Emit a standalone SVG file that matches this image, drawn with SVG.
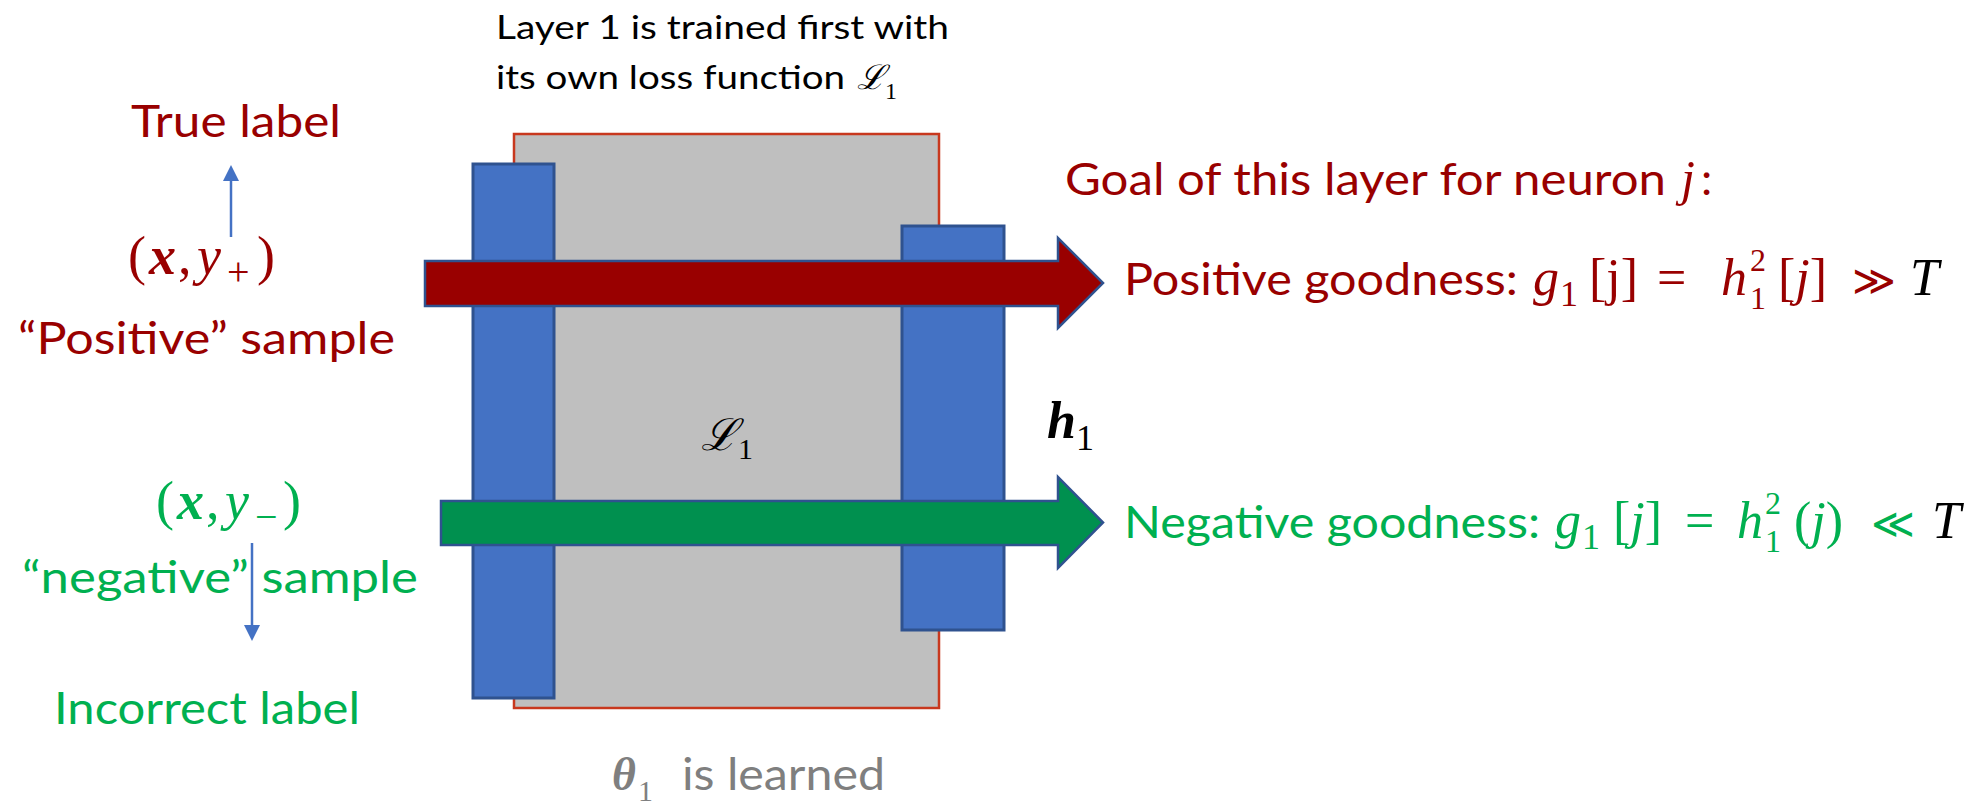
<svg xmlns="http://www.w3.org/2000/svg" width="1973" height="804" viewBox="0 0 1973 804">
<style>
.t{font-family:Lato,"Liberation Sans",sans-serif}
.m{font-family:"Liberation Serif","DejaVu Serif",serif;font-style:italic}
.u{font-style:normal}
.b{font-weight:bold}
.red{fill:#990000}
.grn{fill:#00B050}
.blk{fill:#000000}
.gry{fill:#7F7F7F}
.bar{fill:#4472C4;stroke:#2F528F;stroke-width:3}
.thin{stroke:#4472C4;stroke-width:2.5;fill:none}
.head{fill:#4472C4}
</style>
<rect width="1973" height="804" fill="#ffffff"/>

<g id="layer1">
  <rect x="514" y="134" width="425" height="574" fill="#BFBFBF" stroke="#C8381E" stroke-width="2.5"/>
</g>
<g id="input-bar">
  <rect class="bar" x="473" y="164" width="81" height="534"/>
</g>
<g id="output-bar">
  <rect class="bar" x="902" y="226" width="102" height="404"/>
</g>

<g id="connectors">
  <polygon points="425,261 1058,261 1058,238 1103,283 1058,328 1058,306 425,306" fill="#990000" stroke="#2F528F" stroke-width="2.5" stroke-linejoin="miter"/>
  <polygon points="441,501 1058,501 1058,477 1103,522.5 1058,568 1058,545 441,545" fill="#00904F" stroke="#2F528F" stroke-width="2.5" stroke-linejoin="miter"/>
  <line class="thin" x1="231" y1="237" x2="231" y2="178"/>
  <polygon class="head" points="223,181 239,181 231,165"/>
  <line class="thin" x1="252" y1="543" x2="252" y2="628"/>
  <polygon class="head" points="244,625 260,625 252,641"/>
</g>

<g id="title">
  <text class="t blk" x="496" y="39" font-size="33" textLength="453" lengthAdjust="spacingAndGlyphs">Layer 1 is trained first with</text>
  <text class="t blk" x="496" y="89" font-size="33" textLength="349" lengthAdjust="spacingAndGlyphs">its own loss function</text>
  <text class="m blk" x="857" y="89" font-size="34">ℒ<tspan class="u" dy="10" font-size="24">1</tspan></text>
</g>

<g id="true-label">
  <text class="t red" x="131" y="137" font-size="45" textLength="210" lengthAdjust="spacingAndGlyphs">True label</text>
</g>

<g id="positive-sample">
  <text class="m red" y="274" font-size="54"><tspan class="u" x="128">(</tspan><tspan class="b" x="149">x</tspan><tspan class="u" x="178">,</tspan><tspan x="197">y</tspan><tspan class="u" x="227" y="285" font-size="40">+</tspan><tspan class="u" x="257" y="274">)</tspan></text>
  <text class="t red" x="18" y="354" font-size="45" textLength="377" lengthAdjust="spacingAndGlyphs">“Positive” sample</text>
</g>

<g id="negative-sample">
  <text class="m grn" y="519" font-size="54"><tspan class="u" x="156">(</tspan><tspan class="b" x="177">x</tspan><tspan class="u" x="206">,</tspan><tspan x="225">y</tspan><tspan class="u" x="255" y="530" font-size="40">−</tspan><tspan class="u" x="283" y="519">)</tspan></text>
  <text class="t grn" x="22" y="593" font-size="45" textLength="396" lengthAdjust="spacingAndGlyphs">“negative” sample</text>
</g>

<g id="incorrect-label">
  <text class="t grn" x="54" y="724" font-size="45" textLength="306" lengthAdjust="spacingAndGlyphs">Incorrect label</text>
</g>

<g id="loss-label">
  <text class="m blk" x="701" y="450" font-size="44">ℒ<tspan class="u" dy="9" font-size="30">1</tspan></text>
</g>

<g id="theta-label">
  <text class="m gry" x="612" y="790" font-size="46"><tspan class="b">θ</tspan><tspan class="u" dx="2" dy="11" font-size="30">1</tspan></text>
  <text class="t gry" x="682" y="790" font-size="45" textLength="203" lengthAdjust="spacingAndGlyphs">is learned</text>
</g>

<g id="h1-label">
  <text class="m blk" x="1047" y="438" font-size="52"><tspan class="b">h</tspan><tspan class="u" dy="12" font-size="36">1</tspan></text>
</g>

<g id="goal">
  <text class="t red" x="1065" y="195" font-size="45" textLength="601" lengthAdjust="spacingAndGlyphs">Goal of this layer for neuron</text>
  <text class="m red" x="1681" y="195" font-size="50">j</text>
  <text class="t red" x="1701" y="195" font-size="45">:</text>
</g>

<g id="positive-goodness">
  <text class="t red" x="1124" y="295" font-size="45" textLength="394" lengthAdjust="spacingAndGlyphs">Positive goodness:</text>
  <text class="m red" y="295" font-size="52"><tspan x="1533">g</tspan><tspan class="u" x="1560" y="306" font-size="36">1</tspan><tspan class="u" x="1589" y="295">[j]</tspan><tspan class="u" x="1657">=</tspan><tspan x="1721">h</tspan><tspan class="u" x="1750" y="271" font-size="32">2</tspan><tspan class="u" x="1750" y="309" font-size="32">1</tspan><tspan class="u" x="1778" y="295">[</tspan><tspan>j</tspan><tspan class="u">]</tspan><tspan class="u" x="1852" font-family="DejaVu Sans" font-size="42">≫</tspan></text>
  <text class="m blk" x="1910" y="295" font-size="52">T</text>
</g>

<g id="negative-goodness">
  <text class="t grn" x="1124" y="538" font-size="45" textLength="416" lengthAdjust="spacingAndGlyphs">Negative goodness:</text>
  <text class="m grn" y="538" font-size="52"><tspan x="1555">g</tspan><tspan class="u" x="1582" y="549" font-size="36">1</tspan><tspan class="u" x="1613" y="538">[</tspan><tspan>j</tspan><tspan class="u">]</tspan><tspan class="u" x="1685">=</tspan><tspan x="1737">h</tspan><tspan class="u" x="1765" y="514" font-size="32">2</tspan><tspan class="u" x="1765" y="552" font-size="32">1</tspan><tspan class="u" x="1794" y="538">(</tspan><tspan>j</tspan><tspan class="u">)</tspan><tspan class="u" x="1871" font-family="DejaVu Sans" font-size="42">≪</tspan></text>
  <text class="m blk" x="1932" y="538" font-size="52">T</text>
</g>
</svg>
